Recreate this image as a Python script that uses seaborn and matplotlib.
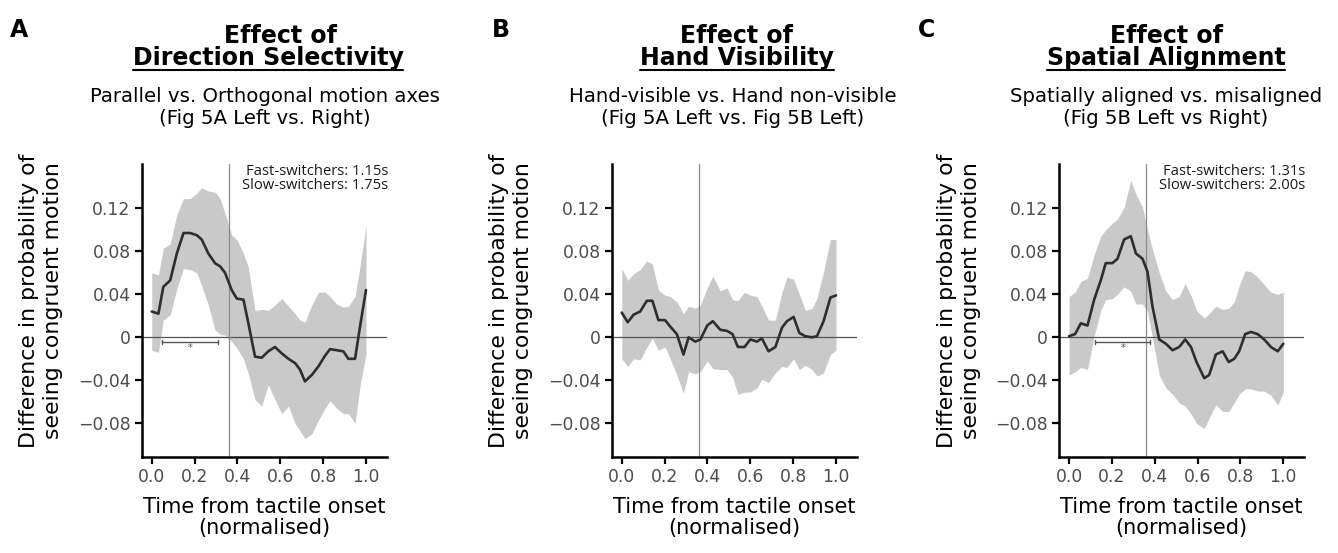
import numpy as np
import pandas as pd
import matplotlib
matplotlib.use("Agg")
import matplotlib.pyplot as plt
import seaborn as sns

# ---------------- data ----------------
time_a = [0.0, 0.031, 0.054, 0.086, 0.117, 0.148, 0.179, 0.210, 0.233, 0.264, 0.295, 0.319,
          0.342, 0.373, 0.397, 0.428, 0.451, 0.482, 0.513, 0.544, 0.575, 0.607, 0.638, 0.669,
          0.692, 0.715, 0.747, 0.778, 0.809, 0.832, 0.863, 0.894, 0.918, 0.949, 0.972, 1.0]
diff_a = [0.024, 0.022, 0.047, 0.053, 0.078, 0.097, 0.097, 0.095, 0.091, 0.078, 0.069, 0.066,
          0.060, 0.044, 0.036, 0.035, 0.013, -0.018, -0.019, -0.013, -0.009, -0.015, -0.020, -0.024,
          -0.030, -0.041, -0.035, -0.027, -0.017, -0.011, -0.012, -0.013, -0.020, -0.020, 0.010, 0.044]
upper_a = [0.060, 0.058, 0.083, 0.087, 0.114, 0.129, 0.129, 0.134, 0.139, 0.136, 0.135, 0.129,
           0.115, 0.095, 0.091, 0.078, 0.065, 0.025, 0.026, 0.025, 0.030, 0.036, 0.029, 0.022,
           0.016, 0.014, 0.030, 0.042, 0.042, 0.038, 0.031, 0.028, 0.029, 0.038, 0.066, 0.104]
lower_a = [-0.012, -0.014, 0.016, 0.021, 0.045, 0.064, 0.063, 0.060, 0.048, 0.030, 0.007, 0.003,
           0.002, -0.004, -0.010, -0.020, -0.034, -0.058, -0.064, -0.044, -0.058, -0.071, -0.064, -0.080,
           -0.087, -0.094, -0.090, -0.077, -0.066, -0.059, -0.066, -0.071, -0.071, -0.080, -0.045, -0.016]

time_b = [0.0, 0.028, 0.055, 0.086, 0.117, 0.143, 0.171, 0.202, 0.226, 0.257, 0.288, 0.312,
          0.343, 0.367, 0.399, 0.425, 0.460, 0.491, 0.517, 0.542, 0.573, 0.600, 0.631, 0.654,
          0.685, 0.717, 0.748, 0.771, 0.802, 0.829, 0.857, 0.888, 0.911, 0.942, 0.974, 1.0]
diff_b = [0.023, 0.014, 0.021, 0.024, 0.034, 0.034, 0.016, 0.016, 0.010, 0.003, -0.016, 0.000,
          -0.004, -0.002, 0.011, 0.015, 0.007, 0.006, 0.003, -0.009, -0.009, -0.002, -0.004, -0.001,
          -0.013, -0.009, 0.009, 0.015, 0.019, 0.004, 0.001, 0.000, 0.001, 0.015, 0.037, 0.039]
upper_b = [0.064, 0.053, 0.059, 0.063, 0.071, 0.068, 0.044, 0.039, 0.038, 0.033, 0.022, 0.029,
           0.027, 0.030, 0.046, 0.057, 0.043, 0.046, 0.035, 0.034, 0.042, 0.039, 0.038, 0.029,
           0.016, 0.016, 0.042, 0.056, 0.054, 0.040, 0.025, 0.027, 0.036, 0.061, 0.091, 0.091]
lower_b = [-0.020, -0.027, -0.020, -0.021, -0.009, -0.001, -0.012, -0.009, -0.020, -0.035, -0.052, -0.032,
           -0.034, -0.032, -0.022, -0.029, -0.030, -0.030, -0.037, -0.053, -0.051, -0.051, -0.047, -0.039,
           -0.042, -0.033, -0.027, -0.028, -0.020, -0.030, -0.026, -0.030, -0.036, -0.033, -0.016, -0.012]

time_c = [0.0, 0.028, 0.055, 0.086, 0.117, 0.148, 0.171, 0.202, 0.226, 0.257, 0.288, 0.312,
          0.343, 0.366, 0.389, 0.421, 0.452, 0.483, 0.514, 0.542, 0.569, 0.595, 0.631, 0.654,
          0.685, 0.717, 0.745, 0.771, 0.794, 0.822, 0.849, 0.880, 0.911, 0.942, 0.974, 1.0]
diff_c = [0.001, 0.003, 0.013, 0.011, 0.035, 0.053, 0.069, 0.069, 0.073, 0.091, 0.094, 0.078,
          0.073, 0.061, 0.029, -0.002, -0.006, -0.012, -0.009, -0.002, -0.009, -0.023, -0.038, -0.035,
          -0.016, -0.013, -0.023, -0.020, -0.013, 0.003, 0.005, 0.003, -0.002, -0.009, -0.013, -0.006]
upper_c = [0.038, 0.042, 0.052, 0.055, 0.077, 0.094, 0.100, 0.106, 0.110, 0.121, 0.146, 0.133,
           0.121, 0.100, 0.082, 0.060, 0.043, 0.035, 0.038, 0.050, 0.039, 0.025, 0.018, 0.022,
           0.029, 0.026, 0.027, 0.033, 0.048, 0.062, 0.061, 0.056, 0.049, 0.042, 0.040, 0.042]
lower_c = [-0.035, -0.032, -0.028, -0.030, 0.001, 0.025, 0.035, 0.036, 0.040, 0.047, 0.043, 0.031,
           0.031, 0.024, 0.000, -0.035, -0.047, -0.053, -0.061, -0.064, -0.071, -0.080, -0.085, -0.075,
           -0.063, -0.069, -0.069, -0.061, -0.053, -0.048, -0.048, -0.050, -0.050, -0.054, -0.063, -0.051]

panel_letters = ["A", "B", "C"]
title_top = ["Effect of", "Effect of", "Effect of"]
title_main = ["Direction Selectivity", "Hand Visibility", "Spatial Alignment"]
subtitle_1 = ["Parallel vs. Orthogonal motion axes", "Hand-visible vs. Hand non-visible",
              "Spatially aligned vs. misaligned"]
subtitle_2 = ["(Fig 5A Left vs. Right)", "(Fig 5A Left vs. Fig 5B Left)", "(Fig 5B Left vs Right)"]
switch_notes = ["Fast-switchers: 1.15s\nSlow-switchers: 1.75s", None,
                "Fast-switchers: 1.31s\nSlow-switchers: 2.00s"]
onset_marker = 0.36
sig_spans = [(0.05, 0.31), None, (0.12, 0.38)]
x_ticks = [0.0, 0.2, 0.4, 0.6, 0.8, 1.0]
x_tick_labels = ["0.0", "0.2", "0.4", "0.6", "0.8", "1.0"]
y_ticks = [-0.08, -0.04, 0.0, 0.04, 0.08, 0.12]
y_tick_labels = ["\u22120.08", "\u22120.04", "0", "0.04", "0.08", "0.12"]

panels = [
    pd.DataFrame({"time": time_a, "diff": diff_a, "upper": upper_a, "lower": lower_a}),
    pd.DataFrame({"time": time_b, "diff": diff_b, "upper": upper_b, "lower": lower_b}),
    pd.DataFrame({"time": time_c, "diff": diff_c, "upper": upper_c, "lower": lower_c}),
]

# ---------------- styling ----------------
sns.set_style("ticks")
plt.rcParams["font.family"] = ["DejaVu Sans"]
plt.rcParams["text.color"] = "black"
plt.rcParams["axes.labelcolor"] = "black"

W, H = 1338, 553
fig = plt.figure(figsize=(W / 100, H / 100), dpi=100)


def fx(px):
    return px / W


def fy(py):
    return 1 - py / H


axes_left = [141.7, 611.7, 1059.0]
ax_top, ax_w, ax_h = 164.0, 245.3, 293.3
letter_x = [10, 492, 918]
title_cx = [[280, 268], [737, 737], [1166, 1166]]
sub_cx = [265, 733, 1166]

for i, df in enumerate(panels):
    l = axes_left[i]
    ax = fig.add_axes([fx(l), fy(ax_top + ax_h), ax_w / W, ax_h / H])
    ax.fill_between(df["time"], df["lower"], df["upper"], color="#c9c9c9", linewidth=0, zorder=1)
    ax.axhline(0, color="#555555", lw=0.9, zorder=2)
    ax.axvline(onset_marker, color="#8a8a8a", lw=0.9, zorder=2)
    sns.lineplot(data=df, x="time", y="diff", ax=ax, color="#2e2e2e", lw=1.9, zorder=3)

    if sig_spans[i] is not None:
        s0, s1 = sig_spans[i]
        ax.plot([s0, s1], [-0.0045, -0.0045], color="#555555", lw=1.0, zorder=4)
        for s in (s0, s1):
            ax.plot([s, s], [-0.0025, -0.0065], color="#555555", lw=1.0, zorder=4)
        ax.text((s0 + s1) / 2, -0.0095, "*", ha="center", va="center", fontsize=7,
                color="#555555", zorder=4)

    if switch_notes[i] is not None:
        ax.text(1.005, 1.0, switch_notes[i], transform=ax.transAxes, ha="right", va="top",
                fontsize=10.6, family=["Open Sans", "DejaVu Sans"], color="#1a1a1a",
                linespacing=0.9)

    ax.set_xlim(-0.047, 1.098)
    ax.set_ylim(-0.1116, 0.1612)
    ax.set_xticks(x_ticks)
    ax.set_xticklabels(x_tick_labels)
    ax.set_yticks(y_ticks)
    ax.set_yticklabels(y_tick_labels)
    ax.tick_params(axis="both", direction="out", length=5, width=1.6, color="black",
                   labelsize=12.4, labelcolor="#4d4d4d", pad=3)
    for side in ("top", "right"):
        ax.spines[side].set_visible(False)
    for side in ("left", "bottom"):
        ax.spines[side].set_linewidth(1.8)
        ax.spines[side].set_color("black")
    ax.set_xlabel("Time from tactile onset\n(normalised)", fontsize=15, color="black",
                  linespacing=1.05)
    ax.xaxis.set_label_coords(0.5, -0.135)
    ax.xaxis.label.set_va("top")
    ax.set_ylabel("Difference in probability of\nseeing congruent motion", fontsize=15.8,
                  color="black", linespacing=1.25)
    ax.yaxis.set_label_coords(-0.32, 0.535)

    fig.text(fx(letter_x[i]), fy(37), panel_letters[i], fontsize=17, fontweight="bold",
             ha="left", va="baseline")
    fig.text(fx(title_cx[i][0]), fy(43), title_top[i], fontsize=17, fontweight="bold",
             ha="center", va="baseline")
    t = fig.text(fx(title_cx[i][1]), fy(65), title_main[i], fontsize=17, fontweight="bold",
                 ha="center", va="baseline")
    t.set_gid("main%d" % i)
    fig.text(fx(sub_cx[i]), fy(102), subtitle_1[i], fontsize=14.2, ha="center", va="baseline")
    fig.text(fx(sub_cx[i]), fy(124), subtitle_2[i], fontsize=14.2, ha="center", va="baseline")

# underline the main titles
fig.canvas.draw()
renderer = fig.canvas.get_renderer()
for t in fig.texts:
    gid = t.get_gid()
    if gid and gid.startswith("main"):
        bb = t.get_window_extent(renderer)
        fig.add_artist(plt.Line2D([bb.x0 / W, bb.x1 / W], [fy(70), fy(70)],
                                  transform=fig.transFigure, color="black", lw=1.5))

fig.savefig("out.png", dpi=100)
